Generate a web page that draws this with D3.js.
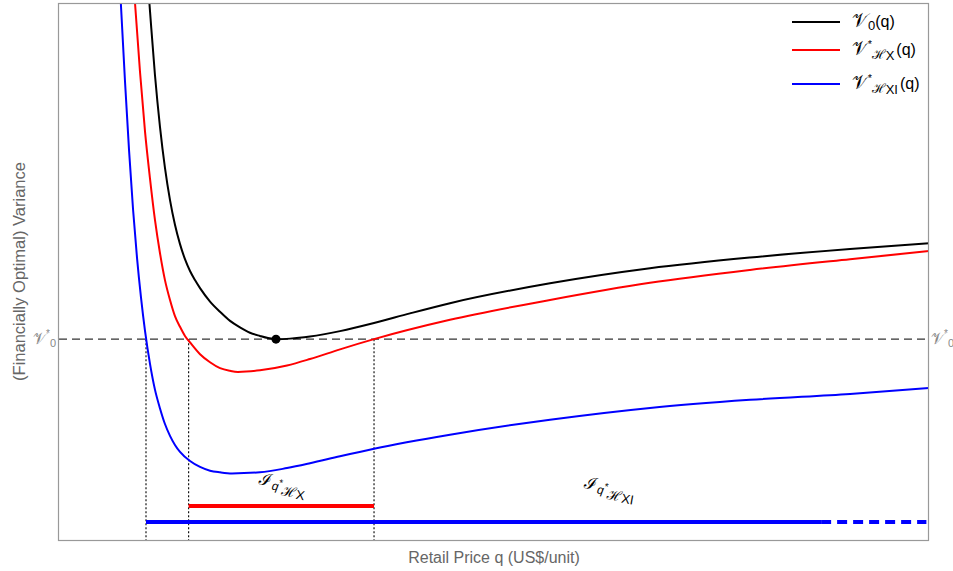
<!DOCTYPE html>
<html>
<head>
<meta charset="utf-8">
<script src="https://cdn.jsdelivr.net/npm/d3@7"></script>
<style>
  html, body { margin: 0; padding: 0; background: #fff; }
  svg { display: block; font-family: Arial, "Liberation Sans", sans-serif; }
</style>
</head>
<body>
<svg id="chart" width="953" height="571"></svg>
<script>
// Retail price q (arbitrary units across the plotted range) and variance without hedging
const qBase = [1.011, 1.046, 1.103, 1.161, 1.218, 1.276, 1.333, 1.391, 1.448, 1.506, 1.563, 1.621, 1.736, 1.851, 1.966, 2.080, 2.195, 2.310, 2.402, 2.494, 2.655, 2.885, 3.230, 3.621, 4.034, 4.494, 5.644, 6.793, 7.943, 9.092, 10.0];
const v0    = [106.0, 98.5,  86.6,  76.9,  69.3,  63.3,  58.7,  55.1,  52.3,  50.1,  48.4,  46.9,  44.4,  42.5,  40.8,  39.6,  38.6,  38.0,  37.6,  37.4,  37.5,  37.9,  38.9,  40.4,  42.2,  44.1,  47.8,  50.6,  52.6,  54.2,  55.25];

// Variance under the hedge H_X
const qX = [0.851, 0.874, 0.931, 0.989, 1.046, 1.103, 1.161, 1.218, 1.276, 1.333, 1.391, 1.448, 1.506, 1.621, 1.736, 1.851, 1.966, 2.057, 2.310, 2.621, 2.885, 3.230, 3.621, 4.494, 5.644, 6.793, 7.943, 9.092, 10.0];
const vX = [105.6, 99.9,  87.2,  76.0,  67.3,  59.6,  53.4,  48.4,  44.7,  41.7,  39.7,  38.0,  36.8,  34.6,  33.1,  32.0,  31.5,  31.3,  31.6,  32.5,  33.7,  35.5,  37.4,  41.0,  44.7,  47.9,  50.3,  52.3,  53.8];

// Variance under the hedge H_XI
const qXI = [0.690, 0.713, 0.759, 0.805, 0.851, 0.897, 0.943, 0.989, 1.046, 1.103, 1.161, 1.218, 1.276, 1.333, 1.391, 1.506, 1.621, 1.736, 1.851, 1.989, 2.310, 2.621, 2.885, 3.230, 3.621, 4.494, 5.644, 6.793, 7.943, 9.092, 10.0];
const vXI = [106.7, 99.3,  85.3,  72.6,  61.6,  52.5,  45.1,  38.9,  32.8,  28.0,  24.5,  21.6,  19.4,  17.7,  16.4,  14.7,  13.6,  12.9,  12.6,  12.4,  12.6,  13.4,  14.3,  15.6,  17.0,  19.6,  22.4,  24.6,  26.1,  27.2,  28.3];

// Benchmark variance level and the price where V0 attains it
const vStar = 37.4;
const qStar = 2.494;

// Price thresholds where the hedged curves cross the benchmark
const crossXI = 1.00;
const crossX = 1.49;
const crossXUpper = 3.621;

// Price intervals
const intervalX = [1.49, 3.621];
const intervalXI = [1.00, 8.76];
const intervalXIext = [8.76, 9.97];
const levelIntervalX = 6.33;
const levelIntervalXI = 3.35;

const svg = d3.select("#chart");
const margin = {left: 59, top: 3, right: 929, bottom: 540};

const x = d3.scaleLinear().domain([0, 10]).range([margin.left, margin.right]);
const y = d3.scaleLinear().domain([0, 100]).range([margin.bottom, margin.top]);

svg.append("defs").append("clipPath").attr("id", "plotclip")
  .append("rect")
  .attr("x", margin.left).attr("y", margin.top)
  .attr("width", margin.right - margin.left).attr("height", margin.bottom - margin.top);

const plot = svg.append("g").attr("clip-path", "url(#plotclip)");

// Benchmark dashed line
plot.append("line")
  .attr("x1", x(0)).attr("x2", x(10))
  .attr("y1", y(vStar)).attr("y2", y(vStar))
  .attr("stroke", "#333").attr("stroke-width", 1.3)
  .attr("stroke-dasharray", "8,5");

// Dotted drop lines
[crossXI, crossX, crossXUpper].forEach(q => {
  plot.append("line")
    .attr("x1", x(q)).attr("x2", x(q))
    .attr("y1", y(vStar)).attr("y2", y(0))
    .attr("stroke", "#000").attr("stroke-width", 1.1)
    .attr("stroke-dasharray", "2,2");
});

const line = d3.line()
  .x(d => x(d[0])).y(d => y(d[1]))
  .curve(d3.curveMonotoneX);

const series = [
  {q: qBase, v: v0, color: "#000"},
  {q: qX, v: vX, color: "#ff0000"},
  {q: qXI, v: vXI, color: "#0000ff"}
];
series.forEach(s => {
  plot.append("path")
    .datum(s.q.map((q, i) => [q, s.v[i]]))
    .attr("d", line)
    .attr("fill", "none")
    .attr("stroke", s.color)
    .attr("stroke-width", 2);
});

// Optimum point
plot.append("circle")
  .attr("cx", x(qStar)).attr("cy", y(vStar)).attr("r", 4.5)
  .attr("fill", "#000");

// Interval bars
plot.append("line")
  .attr("x1", x(intervalX[0])).attr("x2", x(intervalX[1]))
  .attr("y1", y(levelIntervalX)).attr("y2", y(levelIntervalX))
  .attr("stroke", "#ff0000").attr("stroke-width", 4);
plot.append("line")
  .attr("x1", x(intervalXI[0])).attr("x2", x(intervalXI[1]))
  .attr("y1", y(levelIntervalXI)).attr("y2", y(levelIntervalXI))
  .attr("stroke", "#0000ff").attr("stroke-width", 4);
plot.append("line")
  .attr("x1", x(intervalXIext[0])).attr("x2", x(intervalXIext[1]))
  .attr("y1", y(levelIntervalXI)).attr("y2", y(levelIntervalXI))
  .attr("stroke", "#0000ff").attr("stroke-width", 4)
  .attr("stroke-dasharray", "10,6");

// Frame
svg.append("rect")
  .attr("x", margin.left - 0.5).attr("y", margin.top + 0.5)
  .attr("width", margin.right - margin.left).attr("height", margin.bottom - margin.top)
  .attr("fill", "none").attr("stroke", "#999").attr("stroke-width", 1.2);

const scriptFont = "'Noto Sans', 'DejaVu Serif', serif";

// Benchmark labels on both sides
function vStarLabel(px) {
  const g = svg.append("text")
    .attr("x", px).attr("y", y(vStar) + 5)
    .attr("fill", "#888").attr("font-size", 16);
  g.append("tspan").text("𝒱").attr("font-family", scriptFont);
  g.append("tspan").text("*").attr("font-size", 10).attr("dy", -7);
  g.append("tspan").text("0").attr("font-size", 11).attr("dy", 10);
}
vStarLabel(33);
vStarLabel(931);

// Interval labels
function intervalLabel(q, v, subName) {
  const t = svg.append("text")
    .attr("x", x(q)).attr("y", y(v))
    .attr("fill", "#000").attr("font-size", 17)
    .attr("transform", `rotate(10, ${x(q)}, ${y(v)})`);
  t.append("tspan").text("ℐ").attr("font-family", scriptFont);
  t.append("tspan").text("q").attr("font-size", 12).attr("dx", 1).attr("dy", 3).attr("font-style", "italic");
  t.append("tspan").text("*").attr("font-size", 10).attr("dy", -5);
  t.append("tspan").text("ℋ").attr("font-size", 14).attr("dy", 9)
    .attr("font-family", scriptFont);
  t.append("tspan").text(subName).attr("font-size", 13).attr("dy", 1);
}
intervalLabel(2.29, 10.4, "X");
intervalLabel(6.03, 9.7, "XI");

// Legend
const legendItems = [
  {color: "#000", star: false, sub: "0"},
  {color: "#ff0000", star: true, sub: "X"},
  {color: "#0000ff", star: true, sub: "XI"}
];
const legendY = [22, 50, 84];
legendItems.forEach((d, i) => {
  const ly = legendY[i];
  svg.append("line")
    .attr("x1", 792).attr("x2", 840).attr("y1", ly).attr("y2", ly)
    .attr("stroke", d.color).attr("stroke-width", 2);
  const t = svg.append("text").attr("x", 852).attr("y", ly + 5)
    .attr("font-size", 16).attr("fill", "#000");
  t.append("tspan").text("𝒱").attr("font-family", scriptFont).attr("font-size", 19);
  if (!d.star) {
    t.append("tspan").text("0").attr("font-size", 13).attr("dy", 3);
    t.append("tspan").text("(q)").attr("dy", -3);
  } else {
    t.append("tspan").text("*").attr("font-size", 10).attr("dy", -7);
    t.append("tspan").text("ℋ").attr("font-size", 13).attr("dy", 11)
      .attr("font-family", scriptFont);
    t.append("tspan").text(d.sub).attr("font-size", 13).attr("dy", 1);
    t.append("tspan").text("(q)").attr("font-size", 16).attr("dx", 2).attr("dy", -5);
  }
});

// Axis titles
svg.append("text")
  .attr("x", (margin.left + margin.right) / 2).attr("y", 563)
  .attr("text-anchor", "middle").attr("fill", "#666").attr("font-size", 16)
  .text("Retail Price q (US$/unit)");
svg.append("text")
  .attr("transform", `translate(25, ${(margin.top + margin.bottom) / 2}) rotate(-90)`)
  .attr("text-anchor", "middle").attr("fill", "#666").attr("font-size", 16.5)
  .text("(Financially Optimal) Variance");
</script>
</body>
</html>
